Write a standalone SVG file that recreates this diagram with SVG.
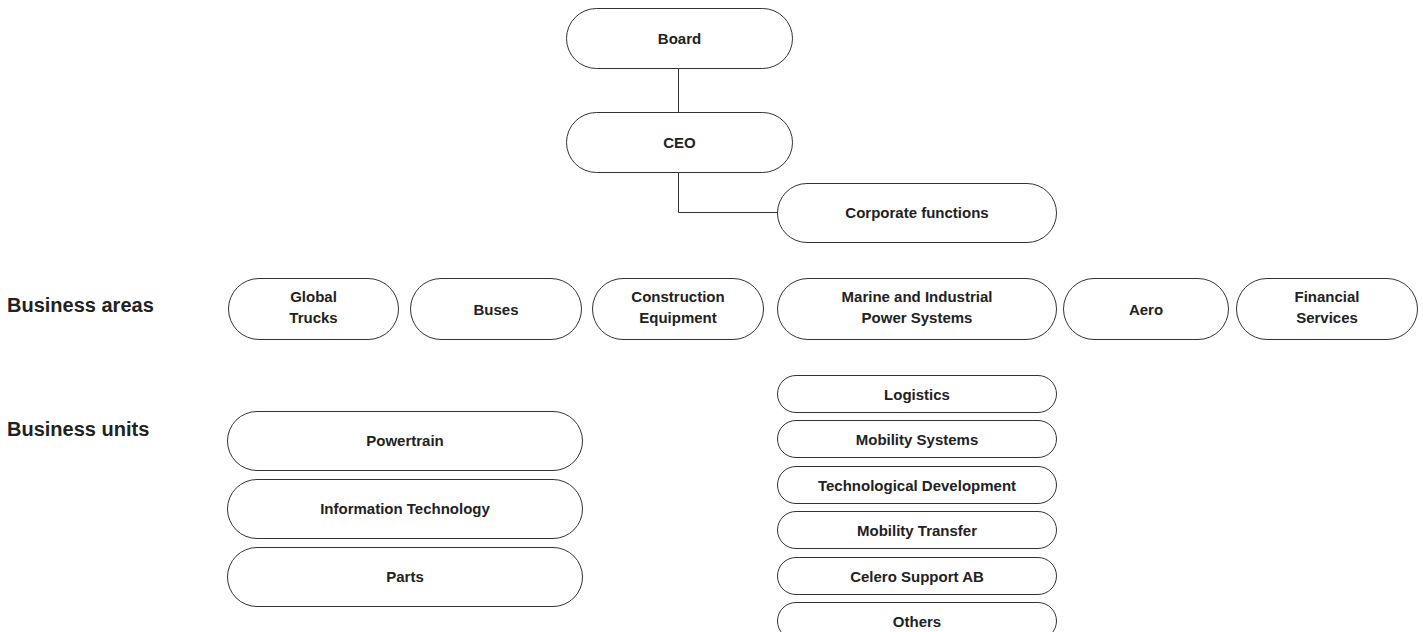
<svg xmlns="http://www.w3.org/2000/svg" width="1423" height="632" viewBox="0 0 1423 632">
  <style>
    .box { fill: #ffffff; stroke: #333333; stroke-width: 1; }
    .lbl { font-family: "Liberation Sans", Arial, sans-serif; font-weight: bold; font-size: 15px; fill: #222222; text-anchor: middle; }
    .row { font-family: "Liberation Sans", Arial, sans-serif; font-weight: bold; font-size: 20px; fill: #222222; }
    .wire { fill: none; stroke: #333333; stroke-width: 1; }
  </style>
  <rect width="1423" height="632" fill="#ffffff"/>

  <!-- connectors -->
  <g id="connectors">
    <path class="wire" d="M678.5 69 V113"/>
    <path class="wire" d="M678.5 172 V212.5 H777"/>
  </g>

  <!-- top of the hierarchy -->
  <g id="board">
    <rect class="box" x="566.5" y="8.5" width="226" height="60" rx="30"/>
    <text class="lbl" x="679.5" y="43.5">Board</text>
  </g>
  <g id="ceo">
    <rect class="box" x="566.5" y="112.5" width="226" height="60" rx="30"/>
    <text class="lbl" x="679.5" y="147.5">CEO</text>
  </g>
  <g id="corporate-functions">
    <rect class="box" x="777.5" y="183.5" width="279" height="59" rx="29.5"/>
    <text class="lbl" x="917" y="218">Corporate functions</text>
  </g>

  <!-- row captions -->
  <text class="row" x="7" y="312">Business areas</text>
  <text class="row" x="7" y="435.5">Business units</text>

  <!-- business areas -->
  <g id="global-trucks">
    <rect class="box" x="228.5" y="278.5" width="170" height="61" rx="30.5"/>
    <text class="lbl" x="313.5" y="301.5">Global</text>
    <text class="lbl" x="313.5" y="323">Trucks</text>
  </g>
  <g id="buses">
    <rect class="box" x="410.5" y="278.5" width="171" height="61" rx="30.5"/>
    <text class="lbl" x="496" y="314.5">Buses</text>
  </g>
  <g id="construction-equipment">
    <rect class="box" x="592.5" y="278.5" width="171" height="61" rx="30.5"/>
    <text class="lbl" x="678" y="301.5">Construction</text>
    <text class="lbl" x="678" y="323">Equipment</text>
  </g>
  <g id="marine-industrial">
    <rect class="box" x="777.5" y="278.5" width="279" height="61" rx="30.5"/>
    <text class="lbl" x="917" y="301.5">Marine and Industrial</text>
    <text class="lbl" x="917" y="323">Power Systems</text>
  </g>
  <g id="aero">
    <rect class="box" x="1063.5" y="278.5" width="165" height="61" rx="30.5"/>
    <text class="lbl" x="1146" y="314.5">Aero</text>
  </g>
  <g id="financial-services">
    <rect class="box" x="1236.5" y="278.5" width="181" height="61" rx="30.5"/>
    <text class="lbl" x="1327" y="301.5">Financial</text>
    <text class="lbl" x="1327" y="323">Services</text>
  </g>

  <!-- business units, left column -->
  <g id="powertrain">
    <rect class="box" x="227.5" y="411.5" width="355" height="59" rx="29.5"/>
    <text class="lbl" x="405" y="446">Powertrain</text>
  </g>
  <g id="information-technology">
    <rect class="box" x="227.5" y="479.5" width="355" height="59" rx="29.5"/>
    <text class="lbl" x="405" y="514">Information Technology</text>
  </g>
  <g id="parts">
    <rect class="box" x="227.5" y="547.5" width="355" height="59" rx="29.5"/>
    <text class="lbl" x="405" y="582">Parts</text>
  </g>

  <!-- business units, right column -->
  <g id="logistics">
    <rect class="box" x="777.5" y="375.5" width="279" height="37" rx="18.5"/>
    <text class="lbl" x="917" y="399.5">Logistics</text>
  </g>
  <g id="mobility-systems">
    <rect class="box" x="777.5" y="420.5" width="279" height="37" rx="18.5"/>
    <text class="lbl" x="917" y="444.5">Mobility Systems</text>
  </g>
  <g id="technological-development">
    <rect class="box" x="777.5" y="466.5" width="279" height="37" rx="18.5"/>
    <text class="lbl" x="917" y="490.5">Technological Development</text>
  </g>
  <g id="mobility-transfer">
    <rect class="box" x="777.5" y="511.5" width="279" height="37" rx="18.5"/>
    <text class="lbl" x="917" y="535.5">Mobility Transfer</text>
  </g>
  <g id="celero-support">
    <rect class="box" x="777.5" y="557.5" width="279" height="37" rx="18.5"/>
    <text class="lbl" x="917" y="581.5">Celero Support AB</text>
  </g>
  <g id="others">
    <rect class="box" x="777.5" y="602.5" width="279" height="37" rx="18.5"/>
    <text class="lbl" x="917" y="626.5">Others</text>
  </g>
</svg>
